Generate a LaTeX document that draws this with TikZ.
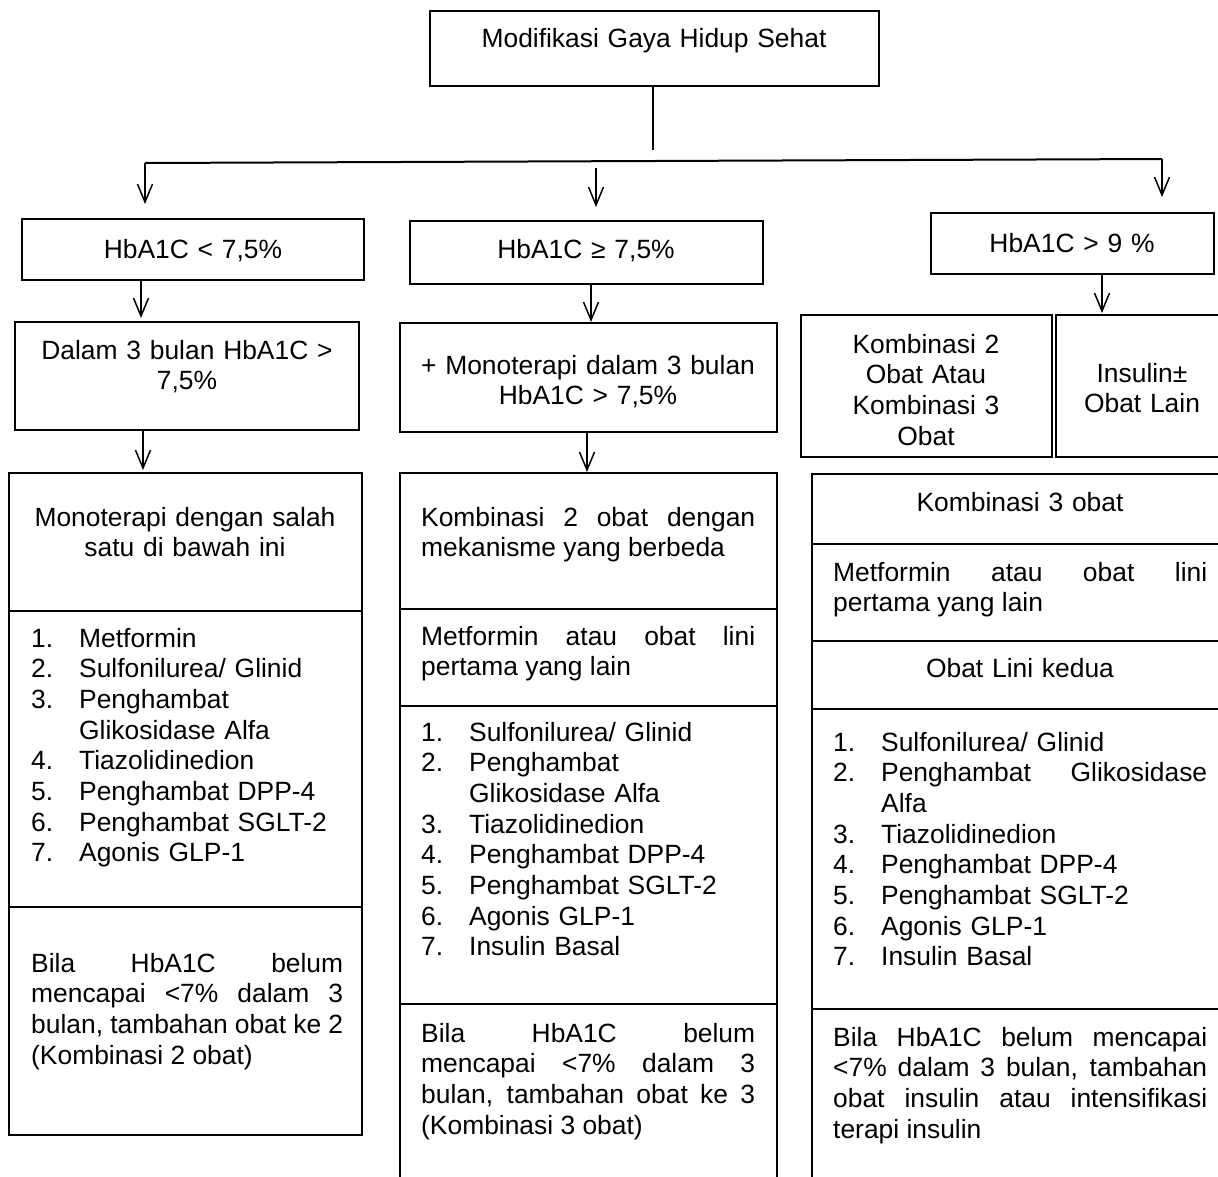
\documentclass[tikz,border=0pt]{standalone}
\usepackage{fontspec}
\setmainfont{Liberation Sans}
\usepackage{tikz}
\usetikzlibrary{arrows.meta,positioning}
\newcommand{\ukuran}{\fontsize{26.4}{30.7}\selectfont}
\newcommand{\butir}[2]{\noindent\hangindent=48pt\hangafter=1\makebox[48pt][l]{#1}#2\par}
\tikzset{
  kotak/.style={draw, line width=2pt, anchor=north west, inner sep=0pt, outer sep=0pt},
  teks/.style={inner sep=0pt, anchor=base, align=center, font=\ukuran, text width=#1},
  rata/.style={inner sep=0pt, anchor=base west, align=justify, font=\ukuran, text width=#1},
  daftar/.style={inner sep=0pt, anchor=base west, align=left, font=\ukuran, text width=#1},
  garis/.style={line width=2pt},
  panah/.style={line width=1.5pt, -{Straight Barb[length=18pt,width=15pt]}}
}

\begin{document}
\begin{tikzpicture}[x=1pt, y=-1pt]
\useasboundingbox (0,0) rectangle (1218,1176);

% kotak
\node[kotak, minimum width=449pt, minimum height=75pt] (modif) at (430,11) {};
\node[kotak, minimum width=342pt, minimum height=61pt] (hbaA) at (22,219) {};
\node[kotak, minimum width=353pt, minimum height=63pt] (hbaB) at (410,221) {};
\node[kotak, minimum width=283pt, minimum height=61pt] (hbaC) at (931,213) {};
\node[kotak, minimum width=344pt, minimum height=108pt] (dalam) at (15,322) {};
\node[kotak, minimum width=377pt, minimum height=109pt] (mono) at (400,323) {};
\node[kotak, minimum width=251pt, minimum height=142pt] (komb) at (801,315) {};
\node[kotak, minimum width=172pt, minimum height=142pt] (insulin) at (1056,315) {};

\node[kotak, minimum width=353pt, minimum height=138pt] (kiriJudul) at (9,473) {};
\node[kotak, minimum width=353pt, minimum height=296pt] (kiriDaftar) at (9,611) {};
\node[kotak, minimum width=353pt, minimum height=228pt] (kiriCatatan) at (9,907) {};

\node[kotak, minimum width=377pt, minimum height=136pt] (tengahJudul) at (400,473) {};
\node[kotak, minimum width=377pt, minimum height=97pt] (tengahLini) at (400,609) {};
\node[kotak, minimum width=377pt, minimum height=298pt] (tengahDaftar) at (400,706) {};
\node[kotak, minimum width=377pt, minimum height=190pt] (tengahCatatan) at (400,1004) {};

\node[kotak, minimum width=416pt, minimum height=70pt] (kananJudul) at (812,474) {};
\node[kotak, minimum width=416pt, minimum height=97pt] (kananLini) at (812,544) {};
\node[kotak, minimum width=416pt, minimum height=68pt] (kananKedua) at (812,641) {};
\node[kotak, minimum width=416pt, minimum height=300pt] (kananDaftar) at (812,709) {};
\node[kotak, minimum width=416pt, minimum height=190pt] (kananCatatan) at (812,1009) {};

% teks
\node[teks=440pt] (tModif) at (654,47) {Modifikasi Gaya Hidup Sehat};
\node[teks=330pt] (tHbaA) at (193,258) {HbA1C < 7,5\%};
\node[teks=340pt] (tHbaB) at (586,258) {HbA1C ≥ 7,5\%};
\node[teks=270pt] (tHbaC) at (1072,252) {HbA1C > 9 \%};
\node[teks=330pt] (tDalam) at (187,359) {Dalam 3 bulan HbA1C >\\7,5\%};
\node[teks=370pt] (tMono) at (588,374) {+ Monoterapi dalam 3 bulan\\HbA1C > 7,5\%};
\node[teks=245pt] (tKomb) at (926,353) {Kombinasi 2\\Obat Atau\\Kombinasi 3\\Obat};
\node[teks=165pt] (tInsulin) at (1142,382) {Insulin±\\Obat Lain};

\node[teks=339pt] (tJudulKiri) at (185,526) {Monoterapi dengan salah\\satu di bawah ini};
\node[daftar=320pt] (tDaftarKiri) at (31,647) {\butir{1.}{Metformin}\butir{2.}{Sulfonilurea/ Glinid}\butir{3.}{Penghambat\linebreak Glikosidase Alfa}\butir{4.}{Tiazolidinedion}\butir{5.}{Penghambat DPP-4}\butir{6.}{Penghambat SGLT-2}\butir{7.}{Agonis GLP-1}};
\node[rata=312pt] (tCatatanKiri) at (31,972) {Bila HbA1C belum\linebreak mencapai <7\% dalam 3\linebreak bulan, tambahan obat ke 2\linebreak (Kombinasi 2 obat)};

\node[rata=334pt] (tJudulTengah) at (421,526) {Kombinasi 2 obat dengan\linebreak mekanisme yang berbeda};
\node[rata=334pt] (tLiniTengah) at (421,645) {Metformin atau obat lini\linebreak pertama yang lain};
\node[daftar=334pt] (tDaftarTengah) at (421,741) {\butir{1.}{Sulfonilurea/ Glinid}\butir{2.}{Penghambat\linebreak Glikosidase Alfa}\butir{3.}{Tiazolidinedion}\butir{4.}{Penghambat DPP-4}\butir{5.}{Penghambat SGLT-2}\butir{6.}{Agonis GLP-1}\butir{7.}{Insulin Basal}};
\node[rata=334pt] (tCatatanTengah) at (421,1042) {Bila HbA1C belum\linebreak mencapai <7\% dalam 3\linebreak bulan, tambahan obat ke 3\linebreak (Kombinasi 3 obat)};

\node[teks=400pt] (tJudulKanan) at (1020,511) {Kombinasi 3 obat};
\node[rata=374pt] (tLiniKanan) at (833,581) {Metformin atau obat lini\linebreak pertama yang lain};
\node[teks=400pt] (tKedua) at (1020,677) {Obat Lini kedua};
\node[daftar=374pt] (tDaftarKanan) at (833,751) {\butir{1.}{Sulfonilurea/ Glinid}\butir{2.}{Penghambat\hfill Glikosidase\linebreak Alfa}\butir{3.}{Tiazolidinedion}\butir{4.}{Penghambat DPP-4}\butir{5.}{Penghambat SGLT-2}\butir{6.}{Agonis GLP-1}\butir{7.}{Insulin Basal}};
\node[rata=374pt] (tCatatanKanan) at (833,1046) {Bila HbA1C belum mencapai\linebreak <7\% dalam 3 bulan, tambahan\linebreak obat insulin atau intensifikasi\linebreak terapi insulin};

% panah
\coordinate (batang) at (653,150);
\coordinate (cabangA) at (145,163);
\coordinate (cabangB) at (596,168);
\coordinate (cabangC) at (1162,159);
\draw[garis] (modif.south -| batang) -- (batang);
\draw[garis] (cabangA) -- (cabangC);
\draw[panah, shorten >=15pt] (cabangA) -- (cabangA |- hbaA.north);
\draw[panah, shorten >=14pt] (cabangB) -- (cabangB |- hbaB.north);
\draw[panah, shorten >=16pt] (cabangC) -- (cabangC |- hbaC.north);

\draw[panah, shorten >=4pt] ([xshift=119pt]hbaA.south west) -- ([xshift=126pt]dalam.north west);
\draw[panah, shorten >=3pt] ([xshift=128pt]dalam.south west) -- ([xshift=134pt]kiriJudul.north west);
\draw[panah, shorten >=1pt] ([xshift=181pt]hbaB.south west) -- ([xshift=191pt]mono.north west);
\draw[panah, shorten >=1pt] ([xshift=187pt]mono.south west) -- ([xshift=187pt]tengahJudul.north west);
\draw[panah, shorten >=2pt] ([xshift=171pt]hbaC.south west) -- ([xshift=46pt]insulin.north west);
\end{tikzpicture}
\end{document}
